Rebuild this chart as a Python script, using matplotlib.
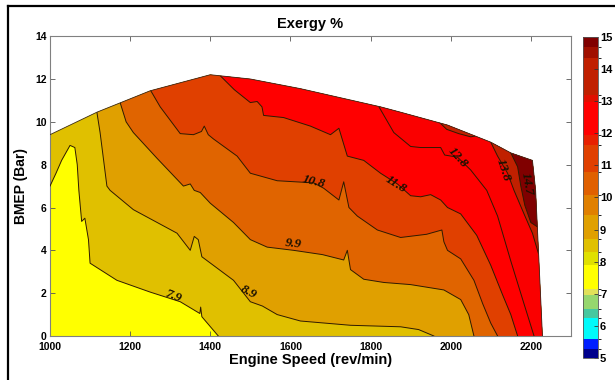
import numpy as np
import matplotlib.pyplot as plt
from matplotlib.patches import Polygon
from matplotlib.colors import ListedColormap, BoundaryNorm
from matplotlib.cm import ScalarMappable
from matplotlib.lines import Line2D

plt.rcParams['font.family'] = ['Liberation Sans', 'DejaVu Sans']
plt.rcParams['font.weight'] = 'bold'
plt.rcParams['axes.titleweight'] = 'bold'
plt.rcParams['axes.labelweight'] = 'bold'

# outline of the measured map (engine speed, BMEP)
edge_speed = [1000, 1117, 1250, 1400, 1425, 1500, 1625, 1825, 1875, 1992, 2100, 2150, 2204, 2212, 2229]
edge_bmep = [9.4, 10.45, 11.45, 12.2, 12.15, 12.0, 11.55, 10.7, 10.45, 9.85, 9.05, 8.55, 8.2, 6.8, 0.0]

# contour lines
c79_speed = [1000, 1015, 1029, 1050, 1062, 1068, 1072, 1079, 1087, 1096, 1100, 1167, 1250, 1325, 1374, 1376, 1379, 1420]
c79_bmep = [7.0, 7.6, 8.2, 8.9, 8.8, 8.0, 6.8, 5.35, 5.5, 4.5, 3.4, 2.6, 2.05, 1.6, 1.05, 1.35, 0.9, 0.0]

c89_speed = [1117, 1125, 1142, 1150, 1208, 1317, 1350, 1360, 1370, 1379, 1458, 1500, 1530, 1567, 1625, 1750, 1875, 1920, 1958]
c89_bmep = [10.45, 9.5, 7.0, 6.8, 5.9, 4.8, 4.0, 4.65, 4.5, 3.7, 2.6, 1.6, 1.4, 1.0, 0.7, 0.5, 0.43, 0.3, 0.0]

c99_speed = [1175, 1190, 1208, 1267, 1333, 1350, 1360, 1375, 1400, 1458, 1500, 1542, 1608, 1680, 1733, 1742, 1750, 1783, 1833, 1900, 1983, 2025, 2045, 2058]
c99_bmep = [10.9, 10.0, 9.5, 8.3, 7.0, 7.1, 6.8, 6.7, 6.2, 5.3, 4.5, 4.15, 4.0, 3.8, 3.55, 4.0, 3.1, 2.65, 2.5, 2.4, 2.15, 1.7, 1.0, 0.0]

c108_speed = [1250, 1275, 1325, 1358, 1378, 1385, 1395, 1408, 1467, 1500, 1567, 1658, 1683, 1721, 1733, 1746, 1767, 1817, 1875, 1940, 1978, 1983, 1992, 2025, 2058, 2080, 2100, 2117]
c108_bmep = [11.5, 10.7, 9.45, 9.4, 9.55, 9.8, 9.4, 9.2, 8.4, 7.6, 7.25, 7.15, 6.9, 6.35, 7.2, 6.0, 5.6, 4.95, 4.6, 4.75, 4.95, 4.4, 4.0, 3.6, 2.6, 1.5, 0.6, 0.0]

c118_speed = [1425, 1460, 1500, 1517, 1529, 1533, 1583, 1650, 1700, 1721, 1742, 1783, 1825, 1867, 1900, 1925, 1950, 1975, 1992, 2025, 2065, 2100, 2130, 2150, 2167]
c118_bmep = [12.15, 11.5, 10.9, 10.95, 10.7, 10.3, 10.2, 9.8, 9.4, 9.7, 8.4, 8.2, 7.6, 7.1, 6.55, 6.5, 6.6, 6.35, 6.0, 5.7, 4.7, 3.3, 1.9, 1.0, 0.0]

c128_speed = [1821, 1858, 1900, 1925, 1975, 1985, 2017, 2050, 2090, 2117, 2150, 2183, 2208]
c128_bmep = [10.7, 9.5, 8.85, 8.8, 8.8, 8.45, 8.35, 7.75, 6.8, 5.6, 3.5, 1.5, 0.0]

c138_speed = [2100, 2117, 2142, 2158, 2183, 2204, 2219]
c138_bmep = [9.05, 8.4, 7.6, 6.8, 5.7, 4.8, 3.85]

c147_speed = [2150, 2167, 2175, 2185, 2200, 2216]
c147_bmep = [8.55, 7.9, 7.0, 6.1, 5.3, 5.1]

# small patch above 13.8 at the upper edge
isl_speed = [1965, 1990, 2020, 2050, 2065]
isl_bmep = [10.1, 9.65, 9.45, 9.3, 9.35]

levels = [7.9, 8.9, 9.9, 10.8, 11.8, 12.8, 13.8, 14.7]
band_colors = ['#FFFF00', '#E0C000', '#E0A000', '#E06400', '#E04000', '#FF0000', '#FA0000', '#C02000', '#800000']

label_speed = [1308, 1496, 1608, 1658, 1862, 2017, 2130, 2190]
label_bmep = [1.85, 2.05, 4.3, 7.2, 7.1, 8.35, 7.75, 7.1]
label_rot = [-22, -28, -6, -14, -32, -48, -72, -80]

# colour bar steps (value edges, rgb)
cbar_edges = [5.0, 5.29, 5.6, 6.23, 6.54, 6.95, 7.16, 7.89, 8.3, 8.72, 9.44, 10.07, 10.8,
              11.62, 11.94, 12.97, 13.18, 14.33, 14.69, 15.0]
cbar_rgb = [(0, 0, 140), (0, 30, 255), (0, 250, 250), (70, 200, 160), (150, 215, 110),
            (225, 225, 90), (255, 255, 0), (224, 224, 0), (224, 192, 0), (224, 160, 0),
            (224, 128, 0), (224, 96, 0), (224, 64, 0), (232, 32, 0), (255, 0, 0),
            (224, 16, 0), (192, 32, 0), (160, 16, 0), (128, 0, 0)]

fig = plt.figure(figsize=(6.15, 3.8), dpi=100)
ax = fig.add_axes([0.0813, 0.1158, 0.847, 0.789])
cax = fig.add_axes([0.948, 0.058, 0.0244, 0.845])

domain = Polygon(list(zip(edge_speed, edge_bmep)) + [(1000, 0)], closed=True,
                 facecolor=band_colors[0], edgecolor='none', zorder=1)
ax.add_patch(domain)


def high_side(xs, ys):
    pts = list(zip(xs, ys))
    if ys[-1] == 0:
        pts += [(xs[-1], -1), (2400, -1)]
    else:
        pts += [(2400, ys[-1])]
    pts += [(2400, 15)]
    if xs[0] == 1000:
        pts += [(990, 15), (990, ys[0])]
    else:
        pts += [(xs[0], 15)]
    return pts


lines = [(c79_speed, c79_bmep), (c89_speed, c89_bmep), (c99_speed, c99_bmep),
         (c108_speed, c108_bmep), (c118_speed, c118_bmep), (c128_speed, c128_bmep),
         (c138_speed, c138_bmep), (c147_speed, c147_bmep)]

for i, (xs, ys) in enumerate(lines):
    p = Polygon(high_side(xs, ys), closed=True, facecolor=band_colors[i + 1],
                edgecolor='none', zorder=2)
    ax.add_patch(p)
    p.set_clip_path(domain)

isl = Polygon(list(zip(isl_speed, isl_bmep)) + [(isl_speed[-1], 15), (isl_speed[0], 15)],
              closed=True, facecolor=band_colors[7], edgecolor='none', zorder=2)
ax.add_patch(isl)
isl.set_clip_path(domain)

for xs, ys in lines + [(isl_speed, isl_bmep)]:
    ln, = ax.plot(xs, ys, color='#2e1a00', lw=0.7, zorder=3)
    ln.set_clip_path(domain)

ax.plot(edge_speed, edge_bmep, color='#3a2a20', lw=0.6, zorder=3)

for lv, lx, ly, rot in zip(levels, label_speed, label_bmep, label_rot):
    ax.text(lx, ly, f'{lv:g}', rotation=rot, ha='center', va='center', fontsize=9.5,
            family=['Liberation Serif', 'DejaVu Serif'], style='italic', weight='bold',
            color='#1a1000', zorder=4, rotation_mode='anchor')

ax.set_xlim(1000, 2300)
ax.set_ylim(0, 14)
ax.set_xticks(range(1000, 2201, 200))
ax.set_yticks(range(0, 15, 2))
ax.tick_params(direction='in', top=True, right=True, length=3.5, width=0.6,
               color='#555555', labelsize=7.5)
ax.tick_params(axis='x', pad=4)
ax.tick_params(axis='y', pad=2.5)
for t in ax.get_xticklabels() + ax.get_yticklabels():
    t.set_fontweight('bold')
for s in ax.spines.values():
    s.set_color('#808080')
    s.set_linewidth(0.8)
ax.set_xlabel('Engine Speed (rev/min)', fontsize=10.5, fontweight='bold', labelpad=1)
ax.set_ylabel('BMEP (Bar)', fontsize=10, fontweight='bold', labelpad=5)
ax.set_title('Exergy %', fontsize=10.5, fontweight='bold', pad=6)

cmap = ListedColormap(np.array(cbar_rgb) / 255.0)
norm = BoundaryNorm(cbar_edges, cmap.N)
cb = fig.colorbar(ScalarMappable(norm=norm, cmap=cmap), cax=cax,
                  spacing='proportional', ticks=range(5, 16))
cb.outline.set_linewidth(0.6)
cb.outline.set_edgecolor('#555555')
cax.tick_params(direction='in', length=3, width=0.6, labelsize=8, pad=1.5, color='#333333')
for t in cax.get_yticklabels():
    t.set_fontweight('bold')

fig.add_artist(Line2D([7.5 / 615, 7.5 / 615], [0, 1 - 6 / 380], transform=fig.transFigure,
                      color='black', lw=1.6))
fig.add_artist(Line2D([7.5 / 615, 1], [1 - 6 / 380, 1 - 6 / 380], transform=fig.transFigure,
                      color='black', lw=1.6))

fig.savefig('out.png', dpi=100)
